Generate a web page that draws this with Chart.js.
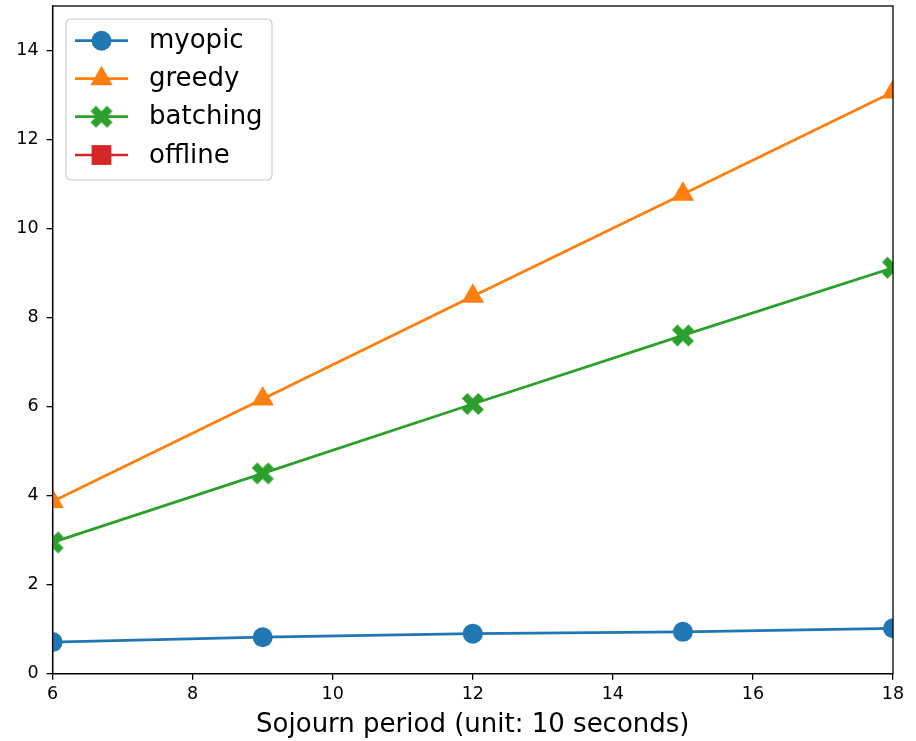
<!DOCTYPE html>
<html><head><meta charset="utf-8">
<script src="https://cdn.jsdelivr.net/npm/chart.js@4"></script>
<style>html,body{margin:0;padding:0;background:#fff;} #wrap{width:916px;height:741px;position:relative;}</style>
</head><body><div id="wrap"><canvas id="c"></canvas></div>
<script>
const sojournPeriods = [6, 9, 12, 15, 18];
const myopic = [0.71, 0.82, 0.90, 0.94, 1.02];
const greedy = [3.87, 6.17, 8.48, 10.77, 13.07];
const batching = [2.95, 4.50, 6.06, 7.60, 9.12];
const offline = [null, null, null, null, null];
const seriesNames = ['myopic', 'greedy', 'batching', 'offline'];
const xTicks = [6, 8, 10, 12, 14, 16, 18];
const yTicks = [0, 2, 4, 6, 8, 10, 12, 14];
const xTitle = 'Sojourn period (unit: 10 seconds)';

const COLORS = ['#1f77b4', '#ff7f0e', '#2ca02c', '#d62728'];
const FONT = "'DejaVu Sans', sans-serif";

function makeX(color, half) {
  const s = Math.ceil(half * 2) + 2;
  const cv = document.createElement('canvas');
  cv.width = s; cv.height = s;
  const g = cv.getContext('2d');
  const a = 1 / 3;
  const pts = [[-1,-a],[-a,-a],[-a,-1],[a,-1],[a,-a],[1,-a],[1,a],[a,a],[a,1],[-a,1],[-a,a],[-1,a]];
  const k = half / ((1 + a) / Math.SQRT2);
  g.translate(s / 2, s / 2);
  g.beginPath();
  pts.forEach((p, i) => {
    const x = (p[0] - p[1]) / Math.SQRT2 * k;
    const y = (p[0] + p[1]) / Math.SQRT2 * k;
    if (i === 0) g.moveTo(x, y); else g.lineTo(x, y);
  });
  g.closePath();
  g.fillStyle = color;
  g.fill();
  return cv;
}
const xMarker = makeX(COLORS[2], 11);

function toXY(vals) { return sojournPeriods.map((x, i) => ({x: x, y: vals[i]})); }

const seriesValues = [myopic, greedy, batching, offline];
const styles = ['circle', 'triangle', xMarker, 'rect'];
const radii = [10, 13, 11, 14];

const datasets = seriesNames.map((name, i) => ({
  label: name,
  data: toXY(seriesValues[i]),
  borderColor: COLORS[i],
  backgroundColor: COLORS[i],
  pointBackgroundColor: COLORS[i],
  pointBorderColor: COLORS[i],
  pointBorderWidth: 0,
  pointStyle: styles[i],
  pointRadius: radii[i],
  pointHoverRadius: radii[i],
  borderWidth: 2.7,
  tension: 0,
  clip: 0
}));

const frameAndLegend = {
  id: 'frameAndLegend',
  afterDatasetsDraw(chart) {
    const ctx = chart.ctx;
    const a = chart.chartArea;
    ctx.save();
    ctx.strokeStyle = '#000';
    ctx.lineWidth = 1.3;
    ctx.strokeRect(a.left, a.top, a.right - a.left, a.bottom - a.top);
    // legend
    const bx = 66, by = 19, bw = 206, bh = 161, r = 5;
    ctx.beginPath();
    ctx.moveTo(bx + r, by);
    ctx.arcTo(bx + bw, by, bx + bw, by + bh, r);
    ctx.arcTo(bx + bw, by + bh, bx, by + bh, r);
    ctx.arcTo(bx, by + bh, bx, by, r);
    ctx.arcTo(bx, by, bx + bw, by, r);
    ctx.closePath();
    ctx.fillStyle = 'rgba(255,255,255,0.8)';
    ctx.fill();
    ctx.strokeStyle = '#cccccc';
    ctx.lineWidth = 1.2;
    ctx.stroke();
    const rowY = [40.7, 78.7, 116.7, 155];
    chart.data.datasets.forEach((ds, i) => {
      const y = rowY[i];
      ctx.strokeStyle = ds.borderColor;
      ctx.lineWidth = 2.7;
      ctx.beginPath();
      ctx.moveTo(75, y); ctx.lineTo(128, y); ctx.stroke();
      ctx.fillStyle = ds.backgroundColor;
      Chart.helpers.drawPoint(ctx, {pointStyle: ds.pointStyle, radius: ds.pointRadius, borderWidth: 0, rotation: 0}, 101.5, y);
      ctx.fillStyle = '#000';
      ctx.font = '26px ' + FONT;
      ctx.textBaseline = 'middle';
      ctx.textAlign = 'left';
      ctx.fillText(ds.label, 149, y + 1);
    });
    ctx.restore();
  }
};

new Chart(document.getElementById('c'), {
  type: 'line',
  data: { datasets: datasets },
  options: {
    responsive: true,
    maintainAspectRatio: false,
    animation: false,
    devicePixelRatio: 1,
    layout: { autoPadding: false, padding: { left: 0, right: 23, top: 6, bottom: 0 } },
    plugins: { legend: { display: false }, tooltip: { enabled: false } },
    elements: { point: { borderWidth: 0 } },
    scales: {
      x: {
        type: 'linear',
        min: 6, max: 18,
        afterBuildTicks: (s) => { s.ticks = xTicks.map(v => ({value: v})); },
        afterFit: (s) => { s.height = 67.3; s.paddingLeft = 0; s.paddingRight = 0; },
        grid: { drawOnChartArea: false, drawTicks: true, tickLength: 6, color: '#000', lineWidth: 1.3 },
        border: { display: true, color: '#000', width: 1.3 },
        ticks: { color: '#000', padding: 4, maxRotation: 0, font: { family: FONT, size: 17.5 }, callback: (v) => String(v) },
        title: { display: true, text: xTitle, color: '#000', padding: { top: 2, bottom: 0 }, font: { family: FONT, size: 26 } }
      },
      y: {
        type: 'linear',
        min: 0, max: 15,
        afterBuildTicks: (s) => { s.ticks = yTicks.map(v => ({value: v})); },
        afterFit: (s) => { s.width = 52.6; s.paddingTop = 0; s.paddingBottom = 0; },
        grid: { drawOnChartArea: false, drawTicks: true, tickLength: 6, color: '#000', lineWidth: 1.3 },
        border: { display: true, color: '#000', width: 1.3 },
        ticks: { color: '#000', padding: 8, font: { family: FONT, size: 17.5 }, callback: (v) => String(v) }
      }
    }
  },
  plugins: [frameAndLegend]
});
</script>
</body></html>
